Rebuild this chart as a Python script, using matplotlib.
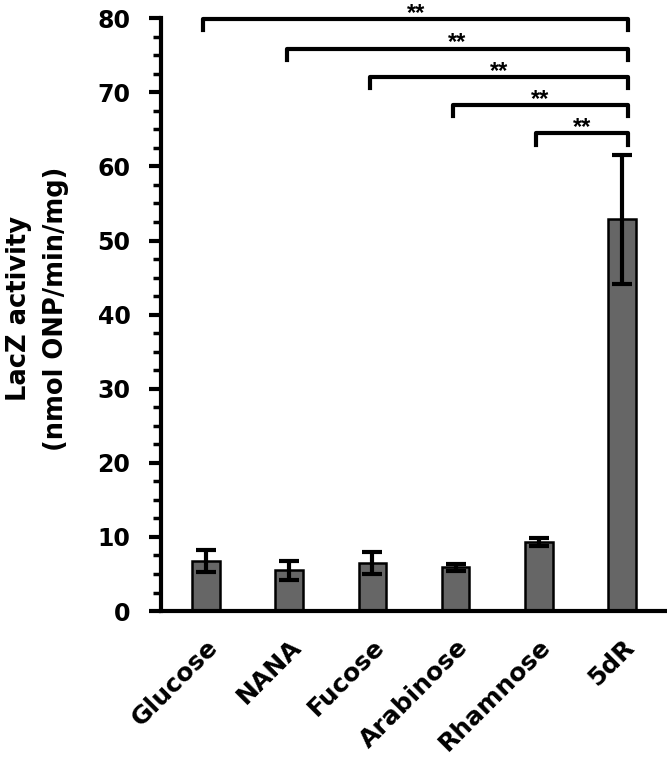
import matplotlib.pyplot as plt
from matplotlib.ticker import MultipleLocator

plt.rcParams['font.family'] = ['DejaVu Sans']
plt.rcParams['font.weight'] = 'bold'

sugars = ['Glucose', 'NANA', 'Fucose', 'Arabinose', 'Rhamnose', '5dR']
activity = [6.8, 5.5, 6.5, 5.9, 9.35, 52.9]
err = [1.5, 1.3, 1.5, 0.5, 0.55, 8.7]

# brackets: (left bar, right bar, height)
pairs = [(0, 5, 79.9), (1, 5, 75.9), (2, 5, 72.1), (3, 5, 68.3), (4, 5, 64.5)]
stars = '**'


def main():
    fig = plt.figure(figsize=(6.67, 7.6), dpi=100)
    ax = fig.add_axes([0.2414, 0.196, 0.7586, 0.78])
    x = list(range(len(sugars)))
    ax.bar(x, activity, width=0.33, color='#666666', edgecolor='black', linewidth=1.8, zorder=2)
    ax.errorbar(x, activity, yerr=err, fmt='none', ecolor='black', elinewidth=3,
                capsize=7.5, capthick=3, zorder=3)

    for a, b, h in pairs:
        xa, xb = a - 0.03, b + 0.07
        ax.plot([xa, xa, xb, xb], [h - 1.55, h, h, h - 1.55], color='black', lw=3,
                clip_on=False, solid_joinstyle='round', zorder=4)
        ax.text((xa + xb) / 2, h - 0.1, stars, ha='center', va='baseline', fontsize=17,
                fontweight='bold', family='Liberation Sans', clip_on=False)

    ax.set_xlim(-0.54, 5.54)
    ax.set_ylim(0, 80)
    ax.yaxis.set_major_locator(MultipleLocator(10))
    ax.yaxis.set_minor_locator(MultipleLocator(2.5))
    ax.set_xticks(x)
    ax.set_xticklabels(sugars, rotation=45, ha='right', rotation_mode='anchor', fontsize=18)
    for lab in ax.get_yticklabels():
        lab.set_fontsize(17)
    ax.tick_params(axis='y', which='major', length=9, width=3, pad=13)
    ax.tick_params(axis='y', which='minor', length=6, width=2.5)
    ax.tick_params(axis='x', length=0, pad=17)
    ax.spines['top'].set_visible(False)
    ax.spines['right'].set_visible(False)
    ax.spines['left'].set_linewidth(3)
    ax.spines['bottom'].set_linewidth(3)
    ax.set_ylabel('LacZ activity\n(nmol ONP/min/mg)', fontsize=18.5, fontweight='bold',
                  linespacing=1.55)
    ax.yaxis.set_label_coords(-0.182, 0.51)

    fig.savefig('out.png', dpi=100)


if __name__ == '__main__':
    main()
